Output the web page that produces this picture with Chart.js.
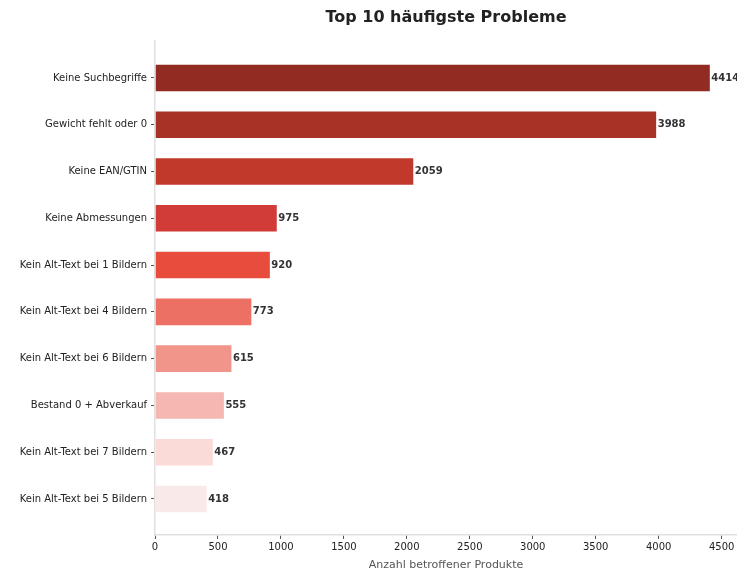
<!DOCTYPE html>
<html>
<head>
<meta charset="utf-8">
<script src="https://cdn.jsdelivr.net/npm/chart.js@4/dist/chart.umd.min.js"></script>
<style>
  html, body { margin: 0; padding: 0; background: #fff; }
  #wrap { width: 737px; height: 574px; }
</style>
</head>
<body>
<div id="wrap"><canvas id="chart"></canvas></div>
<script>
// Problem categories, top to bottom
const problems = [
  'Keine Suchbegriffe',
  'Gewicht fehlt oder 0',
  'Keine EAN/GTIN',
  'Keine Abmessungen',
  'Kein Alt-Text bei 1 Bildern',
  'Kein Alt-Text bei 4 Bildern',
  'Kein Alt-Text bei 6 Bildern',
  'Bestand 0 + Abverkauf',
  'Kein Alt-Text bei 7 Bildern',
  'Kein Alt-Text bei 5 Bildern'
];
const counts = [4414, 3988, 2059, 975, 920, 773, 615, 555, 467, 418];
const barColors = [
  '#922b21', '#a93226', '#c0392b', '#d13c38', '#e74c3c',
  '#ec7063', '#f1948a', '#f5b7b1', '#fadbd8', '#f9e9e8'
];
const xTicks = [0, 500, 1000, 1500, 2000, 2500, 3000, 3500, 4000, 4500];

const FONT = "'DejaVu Sans', sans-serif";

// Draw the value next to each bar
const valueLabels = {
  id: 'valueLabels',
  afterDatasetsDraw(chart) {
    const ctx = chart.ctx;
    ctx.save();
    ctx.font = 'bold 10px ' + FONT;
    ctx.fillStyle = '#333';
    ctx.textBaseline = 'middle';
    ctx.textAlign = 'left';
    chart.getDatasetMeta(0).data.forEach((bar, i) => {
      ctx.fillText(String(counts[i]), bar.x + 0.5, bar.y);
    });
    ctx.restore();
  }
};

// Title centered over the plot area (like matplotlib)
const plotTitle = {
  id: 'plotTitle',
  afterDraw(chart) {
    const { ctx, chartArea } = chart;
    ctx.save();
    ctx.font = 'bold 16px ' + FONT;
    ctx.fillStyle = '#222';
    ctx.textAlign = 'center';
    ctx.textBaseline = 'middle';
    ctx.fillText('Top 10 häufigste Probleme', (chartArea.left + chartArea.right) / 2, 18);
    ctx.restore();
  }
};

new Chart(document.getElementById('chart'), {
  type: 'bar',
  data: {
    datasets: [{
      data: counts.map((v, i) => ({ x: v, y: i })),
      backgroundColor: barColors,
      borderColor: 'rgba(255,255,255,0.35)',
      borderWidth: 1,
      barPercentage: 0.61,
      categoryPercentage: 1.0
    }]
  },
  options: {
    indexAxis: 'y',
    responsive: true,
    maintainAspectRatio: false,
    animation: false,
    layout: { padding: { top: 41, right: 0, bottom: 0, left: 0 } },
    scales: {
      x: {
        type: 'linear',
        min: 0,
        max: 4622,
        afterBuildTicks: (scale) => { scale.ticks = xTicks.map(v => ({ value: v })); },
        afterFit: (scale) => { scale.height = 39; },
        ticks: {
          color: '#222',
          font: { family: FONT, size: 10 },
          padding: 2,
          callback: (v) => String(v)
        },
        grid: { drawOnChartArea: false, tickLength: 4, tickColor: '#555' },
        border: { color: '#e0e0e0', width: 1.5 },
        title: {
          display: true,
          text: 'Anzahl betroffener Produkte',
          color: '#555',
          font: { family: FONT, size: 11 },
          padding: { top: 0, bottom: 2 }
        }
      },
      y: {
        type: 'linear',
        reverse: true,
        offset: false,
        min: -0.79,
        max: 9.77,
        afterBuildTicks: (scale) => { scale.ticks = problems.map((_, i) => ({ value: i })); },
        afterFit: (scale) => { scale.width = 155; },
        ticks: {
          color: '#222',
          font: { family: FONT, size: 10 },
          padding: 4,
          callback: (v) => problems[v]
        },
        grid: { offset: false, drawOnChartArea: false, tickLength: 4, tickColor: '#555' },
        border: { color: '#e0e0e0', width: 1.5 }
      }
    },
    plugins: {
      legend: { display: false },
      tooltip: { enabled: false },
      title: { display: false }
    }
  },
  plugins: [valueLabels, plotTitle]
});
</script>
</body>
</html>
